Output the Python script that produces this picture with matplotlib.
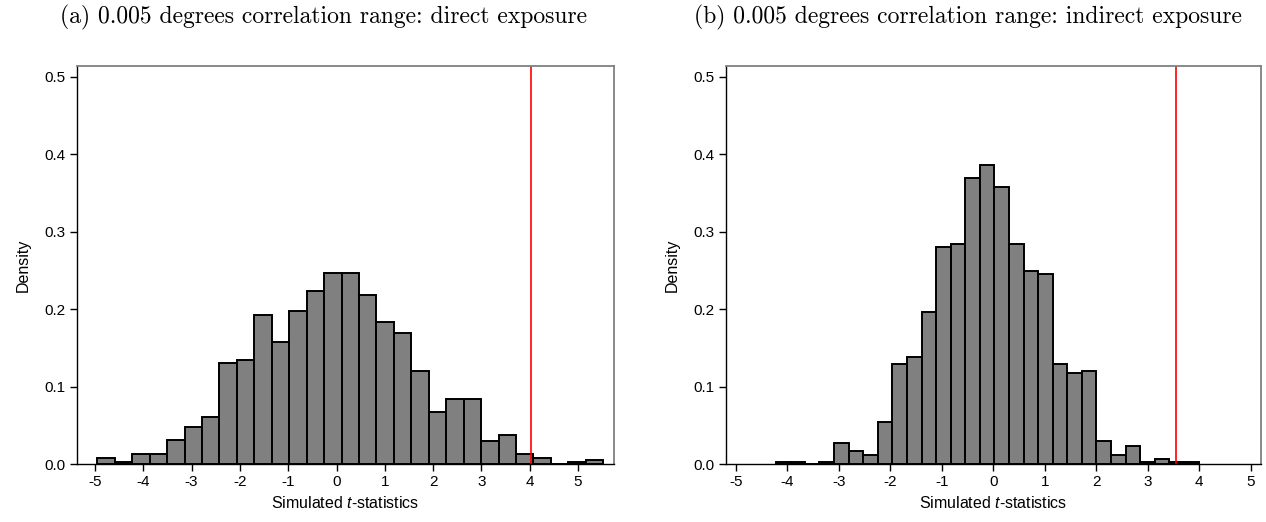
import numpy as np
import matplotlib
matplotlib.use("Agg")
import matplotlib.pyplot as plt

plt.rcParams["font.family"] = "Liberation Sans"
plt.rcParams["axes.unicode_minus"] = False
plt.rcParams["mathtext.fontset"] = "custom"
plt.rcParams["mathtext.rm"] = "Liberation Sans"
plt.rcParams["mathtext.it"] = "Liberation Sans:italic"

# histogram densities (29 bins each)
direct_start = -4.952
direct_width = 0.3612
direct_density = [0.008, 0.0026, 0.0128, 0.0128, 0.031, 0.048, 0.0615, 0.131, 0.134,
                  0.192, 0.158, 0.198, 0.223, 0.247, 0.247, 0.218, 0.184, 0.170,
                  0.120, 0.067, 0.084, 0.084, 0.030, 0.038, 0.0128, 0.0077, 0.0,
                  0.0026, 0.005]
direct_tstat = 4.02

indirect_start = -4.223
indirect_width = 0.2831
indirect_density = [0.0026, 0.0026, 0.0, 0.0026, 0.027, 0.017, 0.012, 0.054, 0.129,
                    0.139, 0.196, 0.280, 0.284, 0.369, 0.386, 0.358, 0.284, 0.249,
                    0.245, 0.129, 0.118, 0.121, 0.030, 0.012, 0.024, 0.0026, 0.0068,
                    0.0026, 0.0026]
indirect_tstat = 3.553

titles = ["(a) 0.005 degrees correlation range: direct exposure",
          "(b) 0.005 degrees correlation range: indirect exposure"]
xticks = [-5, -4, -3, -2, -1, 0, 1, 2, 3, 4, 5]
yticks = [0.0, 0.1, 0.2, 0.3, 0.4, 0.5]

fig = plt.figure(figsize=(12.66, 5.22), dpi=100)
W, H = 1266, 522
ax1 = fig.add_axes([77 / W, 1 - 464.3 / H, 537 / W, 398.3 / H])
ax2 = fig.add_axes([726 / W, 1 - 464.3 / H, 534.7 / W, 398.3 / H])


def draw_hist(ax, start, width, dens, tstat, xlim):
    n = len(dens)
    left = start + width * np.arange(n)
    ax.bar(left, dens, width=width, align="edge", color="#808080",
           edgecolor="black", linewidth=1.4)
    ax.axvline(tstat, color="#ff0000", linewidth=1.2)
    ax.set_xlim(*xlim)
    ax.set_ylim(0, 0.5138)
    ax.set_xticks(xticks)
    ax.set_xticklabels([str(t) for t in xticks])
    ax.set_yticks(yticks)
    ax.set_yticklabels(["%.1f" % t for t in yticks])
    ax.tick_params(axis="both", direction="out", length=5, width=1,
                   labelsize=11, pad=3)
    ax.set_ylabel("Density", fontsize=11.5, labelpad=10)
    ax.set_xlabel("Simulated $t$-statistics", fontsize=11.5, labelpad=4)
    for side in ["left", "bottom"]:
        ax.spines[side].set_color("black")
        ax.spines[side].set_linewidth(1)
    for side in ["top", "right"]:
        ax.spines[side].set_color("#808080")
        ax.spines[side].set_linewidth(1.3)


draw_hist(ax1, direct_start, direct_width, direct_density, direct_tstat, (-5.373, 5.745))
draw_hist(ax2, indirect_start, indirect_width, indirect_density, indirect_tstat, (-5.188, 5.194))

fig.text(323 / W, 1 - 17 / H, titles[0], family="cmr10", fontsize=17,
         ha="center", va="center")
fig.text(968 / W, 1 - 17 / H, titles[1], family="cmr10", fontsize=17,
         ha="center", va="center")

fig.savefig("out.png", dpi=100)
